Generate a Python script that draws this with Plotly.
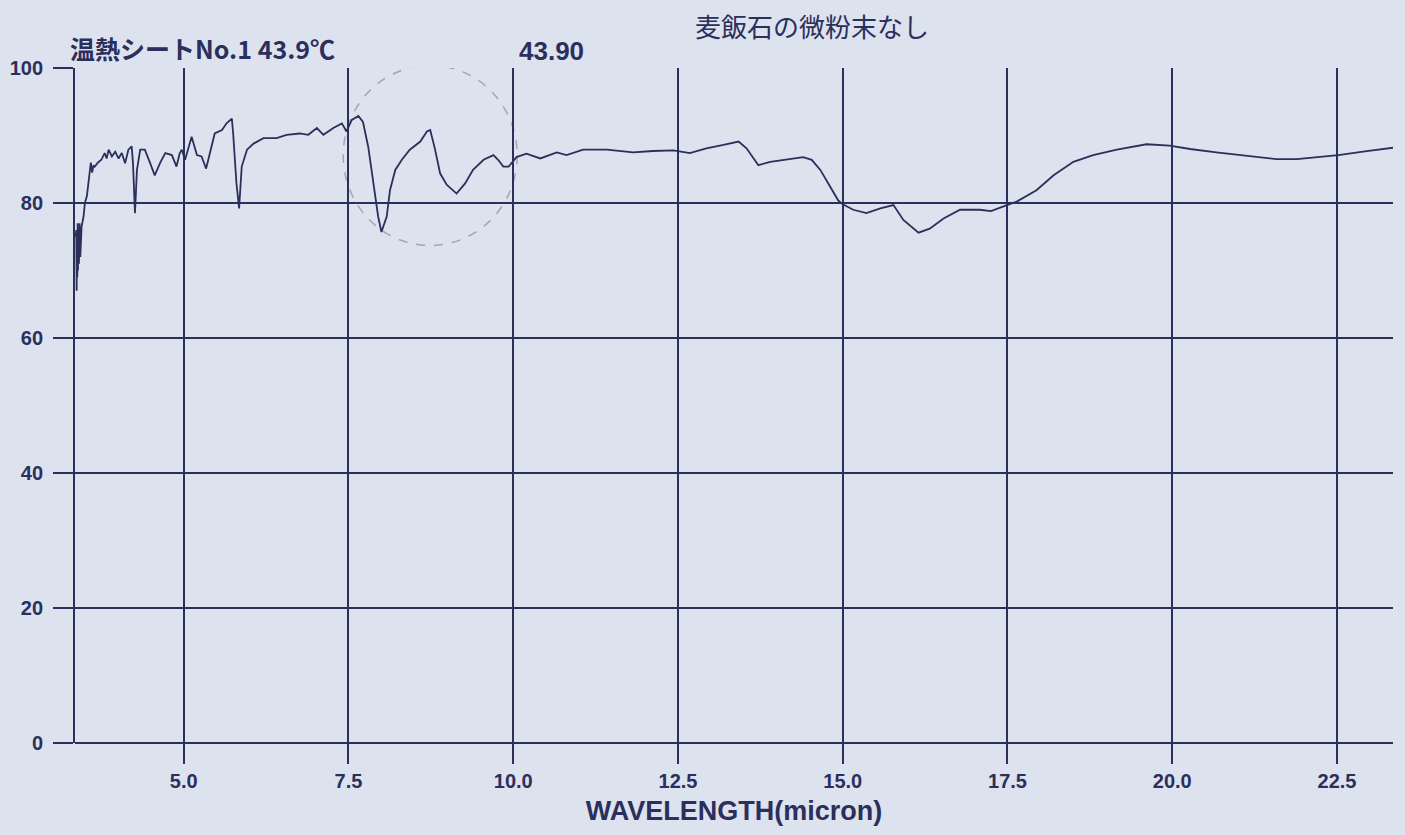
import plotly.graph_objects as go

# ---- data ----
wavelength = [3.36, 3.365, 3.37, 3.375, 3.38, 3.385, 3.39, 3.395, 3.40, 3.41, 3.42, 3.43, 3.45, 3.48,
              3.50, 3.53, 3.55, 3.57, 3.59, 3.61, 3.63, 3.65, 3.70, 3.75, 3.80, 3.83, 3.86, 3.91, 3.96,
              4.01, 4.06, 4.11, 4.16, 4.21, 4.23, 4.26, 4.29, 4.34, 4.41, 4.49, 4.56, 4.64, 4.72, 4.82,
              4.89, 4.94, 4.97, 5.02, 5.12, 5.20, 5.27, 5.34, 5.40, 5.47, 5.58, 5.65, 5.73, 5.75, 5.80,
              5.84, 5.88, 5.96, 6.06, 6.21, 6.41, 6.56, 6.76, 6.89, 7.02, 7.12, 7.27, 7.40, 7.47, 7.55,
              7.65, 7.72, 7.80, 7.88, 7.95, 8.00, 8.08, 8.13, 8.21, 8.31, 8.43, 8.59, 8.69, 8.74, 8.81,
              8.89, 8.99, 9.14, 9.27, 9.39, 9.55, 9.70, 9.77, 9.85, 9.93, 10.05, 10.20, 10.41, 10.66,
              10.81, 11.06, 11.42, 11.82, 12.12, 12.43, 12.68, 12.93, 13.19, 13.42, 13.54, 13.72, 13.90,
              14.15, 14.40, 14.53, 14.66, 14.81, 14.93, 15.00, 15.16, 15.36, 15.57, 15.77, 15.92, 16.15,
              16.32, 16.53, 16.78, 17.08, 17.25, 17.44, 17.64, 17.94, 18.20, 18.50, 18.80, 19.16, 19.61,
              19.96, 20.27, 20.67, 21.08, 21.58, 21.89, 22.19, 22.52, 22.95, 23.36]
transmittance = [75, 68, 76, 67, 74, 69, 77, 70, 76, 71, 77, 72, 76.5, 78,
                 80, 81, 82.4, 84, 86, 84.5, 85.5, 85.4, 86, 86.4, 87.4, 86.6, 87.9, 86.9, 87.6,
                 86.6, 87.4, 85.9, 87.9, 88.4, 85.9, 78.5, 84.9, 87.9, 87.9, 85.9, 84.1, 85.9, 87.4, 87.1,
                 85.4, 87.4, 87.9, 86.4, 89.8, 87.1, 86.9, 85.1, 87.4, 90.3, 90.8, 91.8, 92.5, 90.3, 82.9,
                 79.2, 85.4, 87.9, 88.8, 89.6, 89.6, 90.1, 90.3, 90.1, 91.1, 90.1, 91.1, 91.8, 90.6, 92.3,
                 92.9, 92.0, 88.3, 82.9, 78.0, 75.7, 78.0, 81.9, 84.9, 86.4, 87.9, 89.1, 90.6, 90.8, 88.1,
                 84.4, 82.7, 81.4, 82.9, 84.9, 86.4, 87.1, 86.4, 85.4, 85.4, 86.8, 87.3, 86.6, 87.5,
                 87.1, 87.9, 87.9, 87.5, 87.7, 87.8, 87.4, 88.1, 88.6, 89.1, 88.1, 85.6, 86.1,
                 86.5, 86.8, 86.4, 84.9, 82.4, 80.4, 79.8, 79.0, 78.5, 79.2, 79.7, 77.5, 75.6,
                 76.2, 77.7, 79.0, 79.0, 78.8, 79.5, 80.2, 81.9, 84.1, 86.1, 87.1, 87.9, 88.7,
                 88.5, 88.0, 87.5, 87.0, 86.5, 86.5, 86.8, 87.1, 87.7, 88.2]

x_ticks = [5.0, 7.5, 10.0, 12.5, 15.0, 17.5, 20.0, 22.5]
x_tick_labels = ["5.0", "7.5", "10.0", "12.5", "15.0", "17.5", "20.0", "22.5"]
y_ticks = [0, 20, 40, 60, 80, 100]
y_tick_labels = ["0", "20", "40", "60", "80", "100"]

title_left = "温熱シートNo.1 43.9℃"
title_mid = "43.90"
title_note = "麦飯石の微粉末なし"
x_title = "WAVELENGTH(micron)"

# highlighted region (circle) in data units
circle_x = [7.42, 10.06]
circle_y = [73.7, 100.4]

# ---- style ----
BG = "#dde2ef"
INK = "#2b2f5c"
FONT = "Liberation Sans Narrow, Arial Narrow, Liberation Sans, Arial, sans-serif"

fig = go.Figure()
fig.add_trace(go.Scatter(x=wavelength, y=transmittance, mode="lines",
                         line=dict(color=INK, width=1.8), showlegend=False,
                         hoverinfo="skip"))

fig.add_shape(type="circle", xref="x", yref="y",
              x0=circle_x[0], x1=circle_x[1], y0=circle_y[0], y1=circle_y[1],
              line=dict(color="#a4a4b4", width=1.5, dash="dash"), layer="below")

fig.update_layout(
    width=1397, height=827,
    margin=dict(l=67, r=12, t=60, b=92),
    paper_bgcolor=BG, plot_bgcolor=BG,
    font=dict(family=FONT, color=INK),
    xaxis=dict(range=[3.35, 23.35], tickvals=x_ticks, automargin=False,
               ticktext=["<b>" + t + "</b>" for t in x_tick_labels],
               showgrid=True, gridcolor=INK, gridwidth=1.6,
               ticks="outside", ticklen=20, tickwidth=1.6, tickcolor=INK,
               showline=False, zeroline=False,
               tickfont=dict(size=20, family=FONT, color=INK, weight="bold"),
               title=dict(text="<b>" + x_title + "</b>",
                          font=dict(size=27, family=FONT, color=INK, weight="bold"),
                          standoff=10)),
    yaxis=dict(range=[0, 100], tickvals=y_ticks, automargin=False,
               ticktext=["<b>" + t + "</b>" for t in y_tick_labels],
               showgrid=True, gridcolor=INK, gridwidth=1.6,
               ticks="outside", ticklen=20, tickwidth=1.6, tickcolor=INK,
               ticklabelstandoff=6,
               showline=True, linecolor=INK, linewidth=1.8, zeroline=True,
               zerolinecolor=INK, zerolinewidth=2,
               tickfont=dict(size=20, family=FONT, color=INK, weight="bold")),
)

fig.add_annotation(text="<b>" + title_left + "</b>", xref="paper", yref="paper",
                   x=-0.005, y=1.0, xanchor="left", yanchor="bottom", yshift=0, showarrow=False,
                   font=dict(size=25, family="Noto Sans CJK JP, " + FONT, color=INK))
fig.add_annotation(text="<b>" + title_mid + "</b>", xref="paper", yref="paper",
                   x=(517 - 75) / 1318, y=1.0, xanchor="left", yanchor="bottom", yshift=0,
                   showarrow=False, font=dict(size=26, family=FONT, color=INK))
fig.add_annotation(text=title_note, xref="paper", yref="paper",
                   x=(693 - 75) / 1318, y=1.0, xanchor="left", yanchor="bottom", yshift=22,
                   showarrow=False, font=dict(size=26, family="Noto Sans CJK JP", color=INK))

fig.write_html("out.html",
               post_script="document.body.style.background='" + BG + "';")
